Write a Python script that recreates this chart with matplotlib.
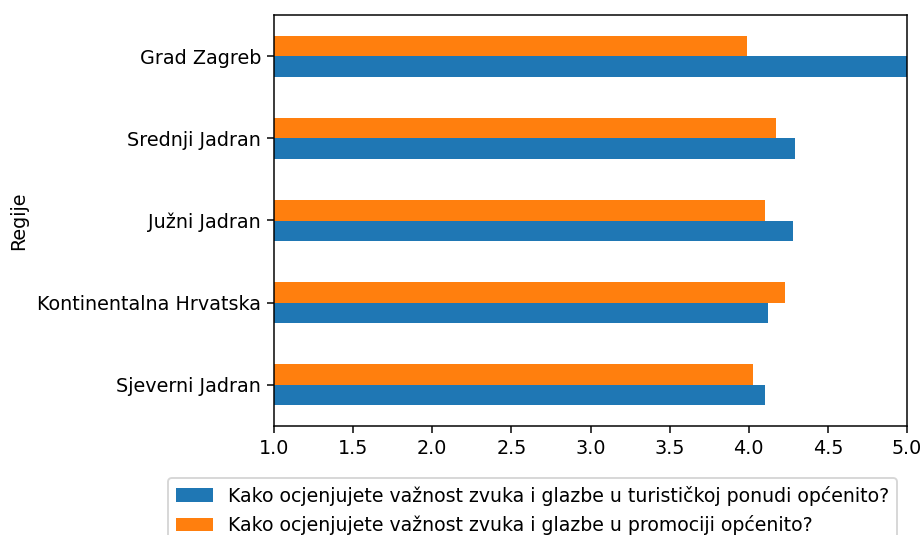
import matplotlib
matplotlib.use("Agg")
import matplotlib.pyplot as plt
import numpy as np

regions = ["Sjeverni Jadran", "Kontinentalna Hrvatska", "Južni Jadran",
           "Srednji Jadran", "Grad Zagreb"]
series_names = [
    "Kako ocjenjujete važnost zvuka i glazbe u turističkoj ponudi općenito?",
    "Kako ocjenjujete važnost zvuka i glazbe u promociji općenito?",
]
ponuda = [4.10, 4.12, 4.28, 4.29, 5.00]
promocija = [4.03, 4.23, 4.10, 4.17, 3.99]
colors = ["#1f77b4", "#ff7f0e"]

plt.rcParams["font.size"] = 10.2
dpi = 135
fig = plt.figure(figsize=(924 / dpi, 535 / dpi), dpi=dpi)
ax = fig.add_axes([274 / 924, 1 - 426 / 535, (907 - 274) / 924, (426 - 15) / 535])

pos = np.arange(len(regions))
w = 0.25
for i, (vals, name, c) in enumerate(zip([ponuda, promocija], series_names, colors)):
    ax.barh(pos - w / 2 + i * w, vals, height=w, color=c, label=name)

ax.set_yticks(pos)
ax.set_yticklabels(regions)
ax.set_ylim(-0.5, 4.5)
ax.set_xlim(1.0, 5.0)
ax.set_xticks(np.arange(1.0, 5.01, 0.5))
ax.set_ylabel("Regije", labelpad=4.5)

fig.legend(loc="upper left", bbox_to_anchor=(168 / 924, 1 - 478 / 535),
           borderaxespad=0, fontsize=10.05)

fig.savefig("out.png", dpi=dpi)
